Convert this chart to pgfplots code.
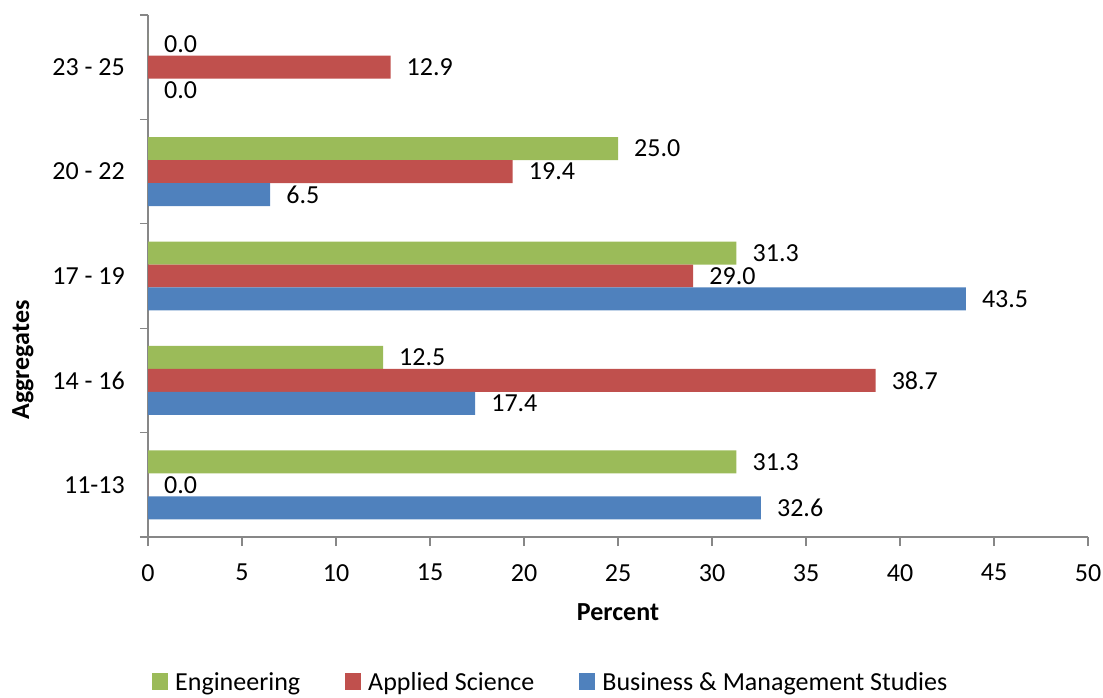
\documentclass[border=0pt]{standalone}
\usepackage{pgfplots}
\pgfplotsset{compat=1.18}
\usepackage{fontspec}
\setmainfont{Carlito}
\definecolor{eng}{HTML}{9BBB59}
\definecolor{app}{HTML}{C0504D}
\definecolor{bus}{HTML}{4F81BD}
\definecolor{axgray}{HTML}{878787}
\begin{document}
\begin{tikzpicture}[font=\fontsize{26pt}{31pt}\selectfont]
\path[use as bounding box] (0,0) rectangle (1103pt,697pt);
\begin{axis}[
  at={(148pt,160pt)}, anchor=south west,
  scale only axis, width=940pt, height=522pt,
  /pgf/number format/assume math mode=true,
  xbar, bar width=0.22,
  xmin=0, xmax=50, ymin=-0.5, ymax=4.5,
  xtick={0,5,...,50},
  ytick={0,1,2,3,4},
  yticklabels={11-13,14 - 16,17 - 19,20 - 22,23 - 25},
  minor ytick={-0.5,0.5,1.5,2.5,3.5,4.5},
  axis lines=left,
  axis line style={-, draw=axgray, line width=1.2pt},
  tick style={draw=axgray, line width=1.2pt},
  major y tick style={draw=none},
  tick align=outside,
  major tick length=9pt, minor tick length=8pt,
  xticklabel style={inner sep=0pt, anchor=north, yshift=-18pt},
  yticklabel style={inner sep=0pt, anchor=east, xshift=-14pt},
  xlabel={\textbf{Percent}},
  ylabel={\textbf{Aggregates}},
  xlabel style={at={(axis description cs:0.5,-0.1437)}, anchor=center, inner sep=0pt},
  ylabel style={at={(axis description cs:-0.133,0.339)}, anchor=center, inner sep=0pt, rotate=0},
  point meta=x,
  nodes near coords={\pgfmathprintnumber[fixed,zerofill,precision=1]{\pgfplotspointmeta}},
  every node near coord/.append style={anchor=west, inner sep=0pt, xshift=16pt, text=black},
  legend style={at={(axis description cs:0.00426,-0.2775)}, anchor=west, draw=none, fill=none,
    inner sep=0pt, legend columns=-1, nodes={inner sep=0pt},
    /tikz/every odd column/.append style={column sep=7pt},
    /tikz/every even column/.append style={column sep=45pt}},
  legend image code/.code={\fill[#1] (0pt,-8pt) rectangle (16pt,9pt);},
]
\addplot[fill=eng, draw=none, bar shift=0.22] coordinates {(31.3,0) (12.5,1) (31.3,2) (25.0,3) (0.0,4)};
\addplot[fill=app, draw=none, bar shift=0] coordinates {(0.0,0) (38.7,1) (29.0,2) (19.4,3) (12.9,4)};
\addplot[fill=bus, draw=none, bar shift=-0.22] coordinates {(32.6,0) (17.4,1) (43.5,2) (6.5,3) (0.0,4)};
\legend{Engineering, Applied Science, Business \& Management Studies}
\end{axis}
\end{tikzpicture}
\end{document}
